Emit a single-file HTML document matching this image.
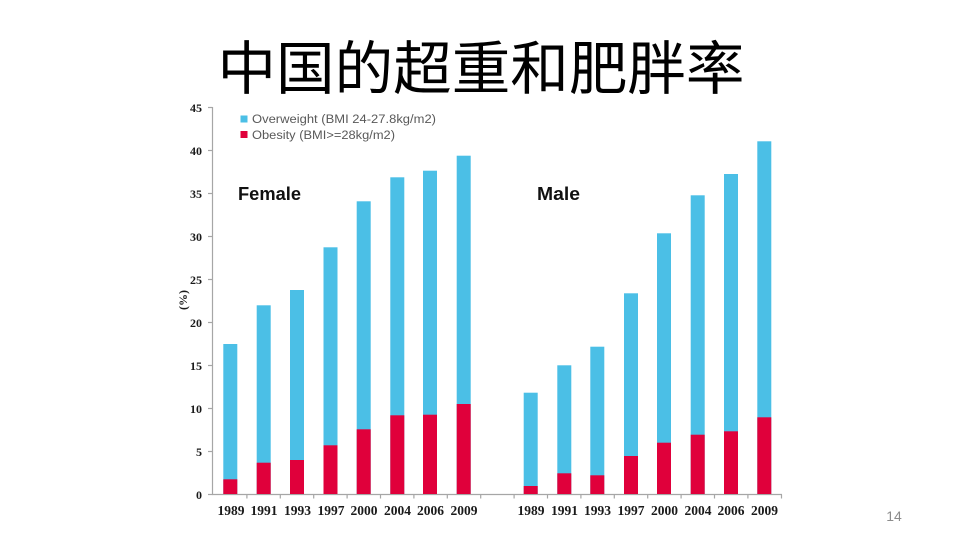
<!DOCTYPE html>
<html>
<head>
<meta charset="utf-8">
<style>
html,body{margin:0;padding:0;background:#fff;}
svg{display:block;}
</style>
</head>
<body>
<svg width="960" height="540" viewBox="0 0 960 540" xmlns="http://www.w3.org/2000/svg">
<rect width="960" height="540" fill="#fff"/>
<!-- Title -->
<text x="481" y="89" text-anchor="middle" font-family="'Liberation Sans','Noto Sans CJK SC',sans-serif" font-size="58" fill="#000" textLength="527" lengthAdjust="spacingAndGlyphs">中国的超重和肥胖率</text>

<!-- Axes -->
<g stroke="#a6a6a6" stroke-width="1.2" fill="none">
<line x1="212.5" y1="107" x2="212.5" y2="494.5"/>
<line x1="212" y1="494.5" x2="782" y2="494.5"/>
<!-- y ticks -->
<line x1="208" y1="107.5" x2="212.5" y2="107.5"/>
<line x1="208" y1="150.5" x2="212.5" y2="150.5"/>
<line x1="208" y1="193.5" x2="212.5" y2="193.5"/>
<line x1="208" y1="236.5" x2="212.5" y2="236.5"/>
<line x1="208" y1="279.5" x2="212.5" y2="279.5"/>
<line x1="208" y1="322.5" x2="212.5" y2="322.5"/>
<line x1="208" y1="365.5" x2="212.5" y2="365.5"/>
<line x1="208" y1="408.5" x2="212.5" y2="408.5"/>
<line x1="208" y1="451.5" x2="212.5" y2="451.5"/>
<line x1="208" y1="494.5" x2="212.5" y2="494.5"/>
<!-- x ticks -->
<line x1="246.9" y1="494.5" x2="246.9" y2="498.5"/>
<line x1="280.3" y1="494.5" x2="280.3" y2="498.5"/>
<line x1="313.7" y1="494.5" x2="313.7" y2="498.5"/>
<line x1="347.1" y1="494.5" x2="347.1" y2="498.5"/>
<line x1="380.5" y1="494.5" x2="380.5" y2="498.5"/>
<line x1="413.9" y1="494.5" x2="413.9" y2="498.5"/>
<line x1="447.3" y1="494.5" x2="447.3" y2="498.5"/>
<line x1="480.7" y1="494.5" x2="480.7" y2="498.5"/>
<line x1="514.1" y1="494.5" x2="514.1" y2="498.5"/>
<line x1="547.5" y1="494.5" x2="547.5" y2="498.5"/>
<line x1="580.9" y1="494.5" x2="580.9" y2="498.5"/>
<line x1="614.3" y1="494.5" x2="614.3" y2="498.5"/>
<line x1="647.7" y1="494.5" x2="647.7" y2="498.5"/>
<line x1="681.1" y1="494.5" x2="681.1" y2="498.5"/>
<line x1="714.5" y1="494.5" x2="714.5" y2="498.5"/>
<line x1="747.9" y1="494.5" x2="747.9" y2="498.5"/>
<line x1="781.5" y1="494.5" x2="781.5" y2="498.5"/>
</g>

<!-- Y tick labels -->
<g font-family="'Liberation Serif',serif" font-weight="bold" font-size="12" fill="#1a1a1a" text-anchor="end">
<text x="202" y="112">45</text>
<text x="202" y="155">40</text>
<text x="202" y="198">35</text>
<text x="202" y="241">30</text>
<text x="202" y="284">25</text>
<text x="202" y="327">20</text>
<text x="202" y="370">15</text>
<text x="202" y="413">10</text>
<text x="202" y="456">5</text>
<text x="202" y="499">0</text>
</g>
<text transform="translate(187,300) rotate(-90)" text-anchor="middle" font-family="'Liberation Serif',serif" font-weight="bold" font-size="12" fill="#1a1a1a">(%)</text>

<!-- Bars: overweight (blue) full height, obesity (red) bottom -->
<g fill="#4bbfe6">
<rect x="223.3" y="344" width="14" height="150"/>
<rect x="256.7" y="305.3" width="14" height="188.7"/>
<rect x="290" y="290" width="14" height="204"/>
<rect x="323.5" y="247.3" width="14" height="246.7"/>
<rect x="356.7" y="201.3" width="14" height="292.7"/>
<rect x="390.3" y="177.3" width="14" height="316.7"/>
<rect x="423" y="170.7" width="14" height="323.3"/>
<rect x="456.7" y="155.7" width="14" height="338.3"/>

<rect x="523.7" y="392.7" width="14" height="101.3"/>
<rect x="557.3" y="365.3" width="14" height="128.7"/>
<rect x="590.3" y="346.7" width="14" height="147.3"/>
<rect x="624" y="293.3" width="14" height="200.7"/>
<rect x="657" y="233.3" width="14" height="260.7"/>
<rect x="690.7" y="195.3" width="14" height="298.7"/>
<rect x="724" y="174" width="14" height="320"/>
<rect x="757.3" y="141.3" width="14" height="352.7"/>
</g>
<g fill="#e0003b">
<rect x="223.3" y="479.3" width="14" height="14.7"/>
<rect x="256.7" y="462.7" width="14" height="31.3"/>
<rect x="290" y="460" width="14" height="34"/>
<rect x="323.5" y="445.3" width="14" height="48.7"/>
<rect x="356.7" y="429.3" width="14" height="64.7"/>
<rect x="390.3" y="415.3" width="14" height="78.7"/>
<rect x="423" y="414.7" width="14" height="79.3"/>
<rect x="456.7" y="404" width="14" height="90"/>

<rect x="523.7" y="486" width="14" height="8"/>
<rect x="557.3" y="473.3" width="14" height="20.7"/>
<rect x="590.3" y="475.3" width="14" height="18.7"/>
<rect x="624" y="456" width="14" height="38"/>
<rect x="657" y="442.7" width="14" height="51.3"/>
<rect x="690.7" y="434.7" width="14" height="59.3"/>
<rect x="724" y="431.3" width="14" height="62.7"/>
<rect x="757.3" y="417.3" width="14" height="76.7"/>
</g>

<!-- X labels -->
<g font-family="'Liberation Serif',serif" font-weight="bold" font-size="13.5" fill="#1a1a1a" text-anchor="middle">
<text x="231" y="515">1989</text>
<text x="264" y="515">1991</text>
<text x="297.5" y="515">1993</text>
<text x="331" y="515">1997</text>
<text x="364" y="515">2000</text>
<text x="397.5" y="515">2004</text>
<text x="430.5" y="515">2006</text>
<text x="464" y="515">2009</text>

<text x="531" y="515">1989</text>
<text x="564.5" y="515">1991</text>
<text x="597.5" y="515">1993</text>
<text x="631" y="515">1997</text>
<text x="664.5" y="515">2000</text>
<text x="698" y="515">2004</text>
<text x="731" y="515">2006</text>
<text x="764.5" y="515">2009</text>
</g>

<!-- Legend -->
<rect x="240.5" y="115.5" width="7" height="7" fill="#4bbfe6"/>
<rect x="240.5" y="131" width="7" height="7" fill="#e0003b"/>
<g font-family="'Liberation Sans',sans-serif" font-size="11.5" fill="#595959">
<text x="252" y="123" textLength="184" lengthAdjust="spacingAndGlyphs">Overweight (BMI 24-27.8kg/m2)</text>
<text x="252" y="139" textLength="143" lengthAdjust="spacingAndGlyphs">Obesity (BMI&gt;=28kg/m2)</text>
</g>

<!-- Group labels -->
<text x="238" y="200" font-family="'Liberation Sans',sans-serif" font-weight="bold" font-size="18" fill="#111" textLength="63" lengthAdjust="spacingAndGlyphs">Female</text>
<text x="537" y="200" font-family="'Liberation Sans',sans-serif" font-weight="bold" font-size="18" fill="#111" textLength="43" lengthAdjust="spacingAndGlyphs">Male</text>

<!-- Page number -->
<text x="894" y="521" text-anchor="middle" font-family="'Liberation Sans',sans-serif" font-size="14" fill="#8c8c8c">14</text>
</svg>
</body>
</html>
